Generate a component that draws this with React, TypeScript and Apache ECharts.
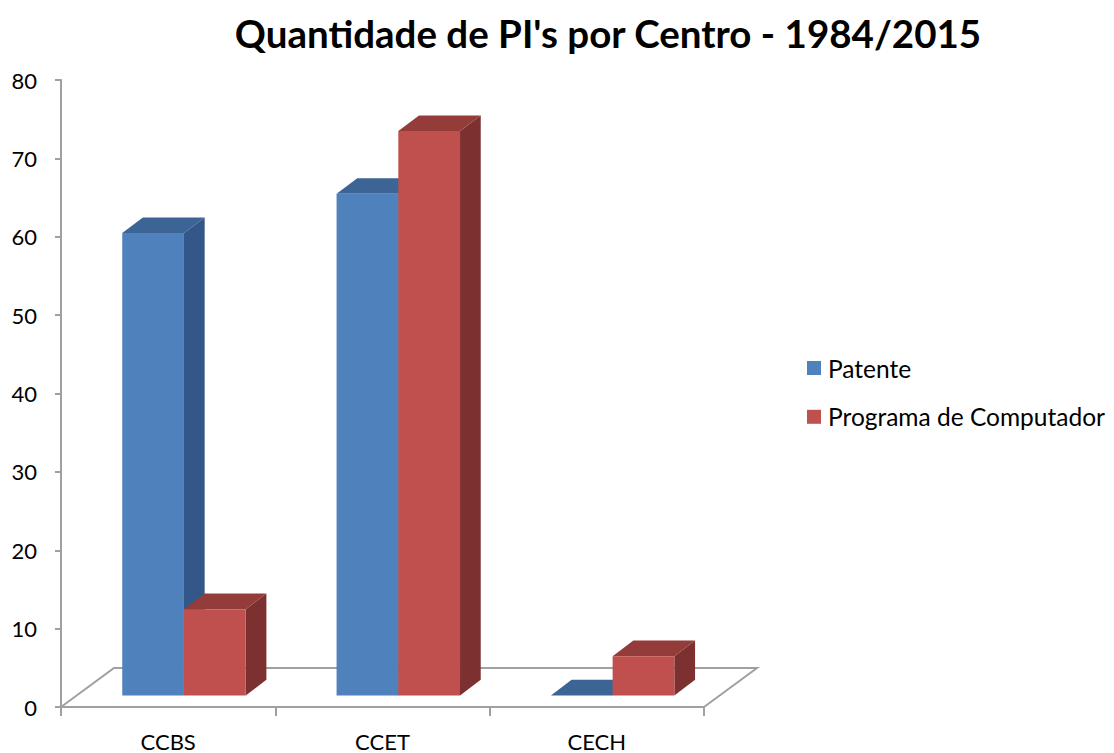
import React, { useEffect, useRef } from "react";
import * as echarts from "echarts";

const categories = ["CCBS", "CCET", "CECH"];
const patente = [59, 64, 0];
const programa = [11, 72, 5];
const seriesNames = ["Patente", "Programa de Computador"];
const titleText = "Quantidade de PI's por Centro - 1984/2015";

const FONT = "Lato, 'Open Sans', sans-serif";
const FRONT_DX = 15.8;
const FRONT_DY = -11.6;
const BAR_DX = 20.7;
const BAR_DY = -15.6;
const FLOOR_DX = 53;
const FLOOR_DY = -39;
const BAR_FRAC = 0.288;

const BLUE = { front: "#4F81BD", top: "#3C6494", side: "#34578A" };
const RED = { front: "#C0504D", top: "#943C3A", side: "#7C302F" };

function makeBarRender(side: "left" | "right", c: { front: string; top: string; side: string }) {
  return (params: any, api: any) => {
    const idx = api.value(0);
    const v = api.value(1);
    const base = api.coord([idx, 0]);
    const top = api.coord([idx, v]);
    const bw = api.size([1, 0])[0] * BAR_FRAC;
    const cx = base[0] + FRONT_DX;
    const x0 = side === "left" ? cx - bw : cx;
    const x1 = x0 + bw;
    const yb = base[1] + FRONT_DY;
    const yt = top[1] + FRONT_DY;
    return {
      type: "group",
      children: [
        {
          type: "polygon",
          shape: { points: [[x1, yt], [x1 + BAR_DX, yt + BAR_DY], [x1 + BAR_DX, yb + BAR_DY], [x1, yb]] },
          style: { fill: c.side },
        },
        {
          type: "polygon",
          shape: { points: [[x0, yt], [x1, yt], [x1 + BAR_DX, yt + BAR_DY], [x0 + BAR_DX, yt + BAR_DY]] },
          style: { fill: c.top },
        },
        {
          type: "rect",
          shape: { x: x0, y: yt, width: bw, height: yb - yt },
          style: { fill: c.front },
        },
      ],
    };
  };
}

export default function App() {
  const ref = useRef<HTMLDivElement>(null);
  useEffect(() => {
    const chart = echarts.init(ref.current!, null, { renderer: "svg" });
    chart.setOption({
      animation: false,
      backgroundColor: "#ffffff",
      title: {
        text: titleText,
        left: 608,
        textAlign: "center",
        top: 13,
        padding: 0,
        textStyle: { fontFamily: FONT, fontWeight: "bold", fontSize: 38.5, color: "#000" },
      },
      legend: {
        orient: "vertical",
        left: 807,
        top: 355.5,
        padding: 0,
        itemWidth: 14,
        itemHeight: 14,
        itemGap: 23.8,
        icon: "rect",
        data: seriesNames,
        textStyle: { fontFamily: FONT, fontSize: 24.5, lineHeight: 24, color: "#000", padding: [0, 0, 0, 2] },
      },
      grid: { left: 61, right: 410, top: 80, bottom: 46 },
      xAxis: {
        type: "category",
        data: categories,
        axisLine: { show: true, lineStyle: { color: "#A0A0A0", width: 2 } },
        axisTick: { show: true, length: 9, lineStyle: { color: "#A0A0A0", width: 2 } },
        axisLabel: { fontFamily: FONT, fontSize: 22, color: "#000", margin: 23 },
      },
      yAxis: {
        type: "value",
        min: 0,
        max: 80,
        interval: 10,
        splitLine: { show: false },
        axisLine: { show: true, lineStyle: { color: "#A0A0A0", width: 2 } },
        axisTick: { show: true, length: 6, lineStyle: { color: "#A0A0A0", width: 2 } },
        axisLabel: { fontFamily: FONT, fontSize: 22, color: "#000", margin: 24 },
      },
      series: [
        {
          type: "custom",
          name: "floor",
          silent: true,
          z: 1,
          data: [[0, 0]],
          renderItem: (params: any) => {
            const cs = params.coordSys;
            const yf = cs.y + cs.height;
            return {
              type: "polyline",
              shape: {
                points: [
                  [cs.x, yf],
                  [cs.x + FLOOR_DX, yf + FLOOR_DY],
                  [cs.x + cs.width + FLOOR_DX, yf + FLOOR_DY],
                  [cs.x + cs.width, yf],
                ],
              },
              style: { stroke: "#A0A0A0", lineWidth: 2, fill: null },
            };
          },
        },
        {
          type: "custom",
          name: seriesNames[0],
          z: 2,
          itemStyle: { color: BLUE.front },
          data: patente.map((v, i) => [i, v]),
          encode: { x: 0, y: 1 },
          renderItem: makeBarRender("left", BLUE),
        },
        {
          type: "custom",
          name: seriesNames[1],
          z: 3,
          itemStyle: { color: RED.front },
          data: programa.map((v, i) => [i, v]),
          encode: { x: 0, y: 1 },
          renderItem: makeBarRender("right", RED),
        },
      ],
    });
    return () => chart.dispose();
  }, []);
  return (
    <div
      ref={ref}
      style={{ position: "absolute", left: 0, top: 0, width: 1114, height: 753 }}
    />
  );
}
